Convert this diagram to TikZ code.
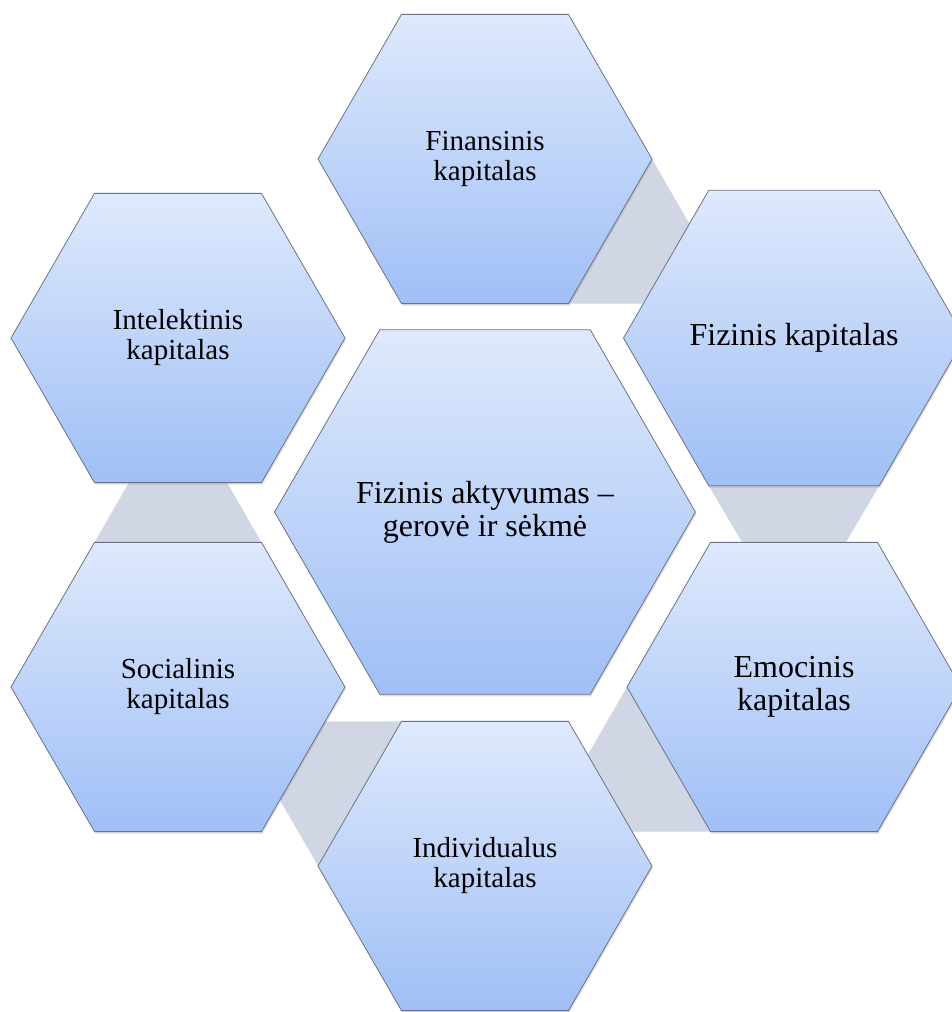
\documentclass[tikz,border=0pt]{standalone}
\usepackage{fontspec}
\setmainfont{Liberation Serif}
\usetikzlibrary{shapes.geometric,shadows,calc,backgrounds}

\definecolor{hexTop}{RGB}{222,233,252}
\definecolor{hexBot}{RGB}{160,191,246}
\definecolor{hexLine}{RGB}{105,115,132}
\definecolor{gapGray}{RGB}{208,214,227}

\begin{document}
\begin{tikzpicture}[x=1pt, y=-1pt,
        hexagon/.style={regular polygon, regular polygon sides=6, inner sep=0pt, outer sep=0pt,
            minimum size=334pt, draw=hexLine, line width=0.8pt,
            top color=hexTop, bottom color=hexBot, align=center,
            font=\fontsize{29}{30}\selectfont,
            drop shadow={shadow xshift=1pt, shadow yshift=-2pt, opacity=0.25}},
        big_text/.style={font=\fontsize{32}{33}\selectfont},
        gap_tri/.style={fill=gapGray}
    ]
    \useasboundingbox (0,0) rectangle (952,1012);

    % Centrinis šešiakampis
    \node[hexagon, big_text, minimum size=406pt] (center) at (485,512)
        {Fizinis aktyvumas –\\gerovė ir sėkmė};

    % Išoriniai šešiakampiai
    \node[hexagon] (fin) at (485,159) {Finansinis\\kapitalas};
    \node[hexagon, big_text] (fiz) at (794,338) {Fizinis kapitalas};
    \node[hexagon, big_text] (emo) at (794,687) {Emocinis\\kapitalas};
    \node[hexagon] (ind) at (485,866) {Individualus\\kapitalas};
    \node[hexagon] (soc) at (178,687) {Socialinis\\kapitalas};
    \node[hexagon] (int) at (178,338) {Intelektinis\\kapitalas};

    % Pilki trikampiai tarp šešiakampių
    \begin{scope}[on background layer]
        \fill[gap_tri] (fin.0) -- (fin.-60) -- ($(fin.-60)+(167,0)$) -- cycle;
        \fill[gap_tri] (fiz.-60) -- (fiz.-120) -- ($(fiz.-60)!0.5!(fiz.-120)+(0,145)$) -- cycle;
        \fill[gap_tri] (emo.180) -- (emo.-120) -- ($(emo.-120)+(-167,0)$) -- cycle;
        \fill[gap_tri] (ind.180) -- (ind.120) -- ($(ind.120)+(-167,0)$) -- cycle;
        \fill[gap_tri] (soc.60) -- (soc.120) -- ($(soc.60)!0.5!(soc.120)+(0,-145)$) -- cycle;
    \end{scope}
\end{tikzpicture}
\end{document}
